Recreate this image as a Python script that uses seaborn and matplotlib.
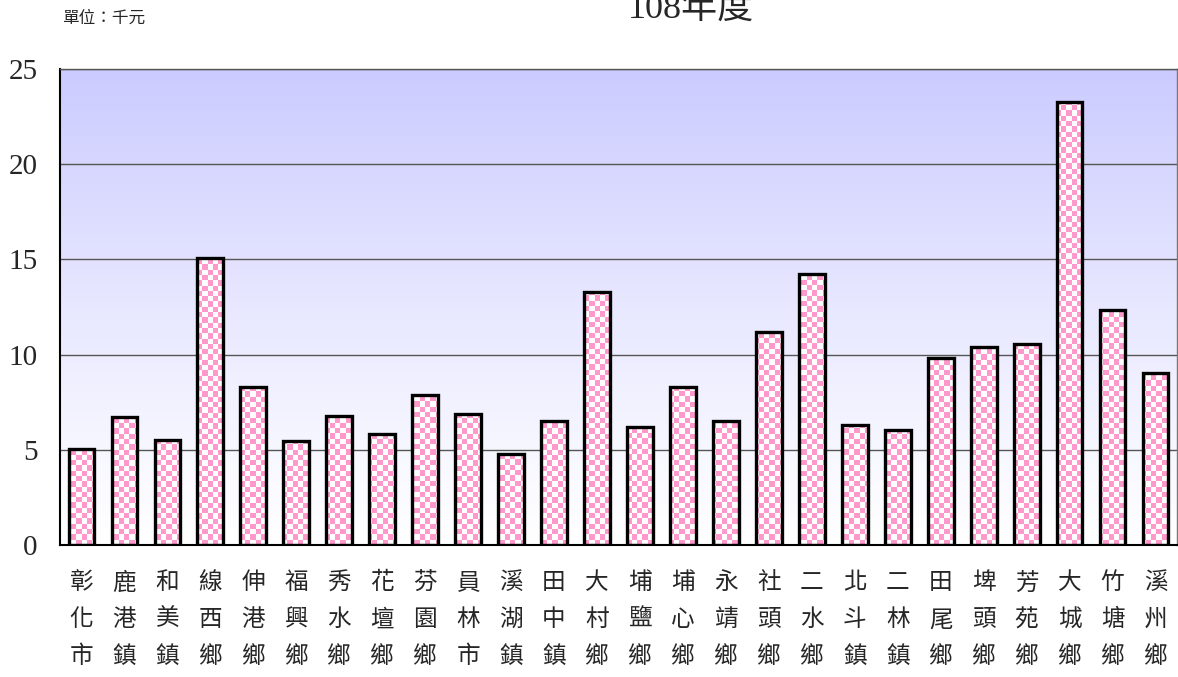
import numpy as np
import pandas as pd
import matplotlib
matplotlib.use('Agg')
import matplotlib.pyplot as plt
import seaborn as sns
from matplotlib.patches import Rectangle
from matplotlib.colors import LinearSegmentedColormap, to_rgb

# data (單位：千元)
towns = ['彰化市', '鹿港鎮', '和美鎮', '線西鄉', '伸港鄉', '福興鄉', '秀水鄉', '花壇鄉',
         '芬園鄉', '員林市', '溪湖鎮', '田中鎮', '大村鄉', '埔鹽鄉', '埔心鄉', '永靖鄉',
         '社頭鄉', '二水鄉', '北斗鎮', '二林鎮', '田尾鄉', '埤頭鄉', '芳苑鄉', '大城鄉',
         '竹塘鄉', '溪州鄉']
values = [5.02, 6.71, 5.50, 15.06, 8.28, 5.46, 6.80, 5.85, 7.88, 6.87, 4.78, 6.50, 13.29,
          6.20, 8.32, 6.53, 11.21, 14.24, 6.32, 6.02, 9.84, 10.39, 10.54, 23.27, 12.35, 9.05]
y_ticks = [0, 5, 10, 15, 20, 25]
title = '108年度'
unit = '單位：千元'

df = pd.DataFrame({'town': towns, 'value': values})

sns.set_style('white')
plt.rcParams['font.family'] = ['Noto Sans CJK TC', 'DejaVu Sans']

fig = plt.figure(figsize=(11.78, 6.77), dpi=100)
ax = fig.add_axes([60 / 1178, 1 - 545 / 677, 1117 / 1178, 476 / 677])

pink = '#FF99CC'
ax = sns.barplot(data=df, x='town', y='value', color=pink, width=0.6,
                 edgecolor='black', linewidth=2, saturation=1, ax=ax, zorder=2)

n = len(towns)
ext = [-0.5, n - 0.5, 0, 25]

# background gradient: lavender at top fading to white
cmap = LinearSegmentedColormap.from_list('bg', ['#FFFFFF', '#CBCBFF'])
grad = np.linspace(1, 0, 256) ** 1.15
ax.imshow(grad[:, None], extent=ext, aspect='auto', cmap=cmap, vmin=0, vmax=1,
          zorder=-2, interpolation='bilinear')

# checkerboard fill, clipped to every bar
cell = 5.3
nx, ny = int(round(1117 / cell)), int(round(476 / cell))
ii, jj = np.indices((ny, nx))
chk = ((ii + jj) % 2).astype(float)
img = np.ones((ny, nx, 3))
img[chk == 0] = to_rgb(pink)
for p in list(ax.patches):
    im = ax.imshow(img, extent=ext, aspect='auto', interpolation='nearest', zorder=2.5)
    im.set_clip_path(p)
    ax.add_patch(Rectangle((p.get_x(), p.get_y()), p.get_width(), p.get_height(),
                           fill=False, edgecolor='black', linewidth=2.4, zorder=3))

ax.set_xlim(-0.5, n - 0.5)
ax.set_ylim(0, 25)
ax.set_yticks(y_ticks)
ax.set_yticklabels([str(t) for t in y_ticks], family='Liberation Serif', fontsize=21)
ax.tick_params(axis='y', length=0, pad=16)

ax.set_xticks(range(n))
ax.set_xticklabels(['\n'.join(t) for t in towns], fontsize=17, linespacing=1.77)
ax.tick_params(axis='x', which='major', length=0, pad=19)
ax.set_xticks(np.arange(0.5, n - 1, 1), minor=True)
ax.tick_params(axis='x', which='minor', direction='in', length=7, width=1, color='#888888')

ax.yaxis.grid(True, color='#555555', linewidth=1)
ax.set_axisbelow(True)
ax.set_xlabel('')
ax.set_ylabel('')

for s in ['left', 'bottom']:
    ax.spines[s].set_color('black')
    ax.spines[s].set_linewidth(1.5)
ax.spines['top'].set_color('#555555')
ax.spines['top'].set_linewidth(1)
ax.spines['right'].set_color('#777777')
ax.spines['right'].set_linewidth(1)

# the title sits partly above the top edge, as in the reference
fig.text(691 / 1178, 1 - 18 / 677, title, ha='center', va='baseline', fontsize=26,
         family=['Liberation Serif', 'Noto Sans CJK TC'])
fig.text(62 / 1178, 1 - 18 / 677, unit, ha='left', va='center', fontsize=12)

fig.savefig('out.png', dpi=100)
